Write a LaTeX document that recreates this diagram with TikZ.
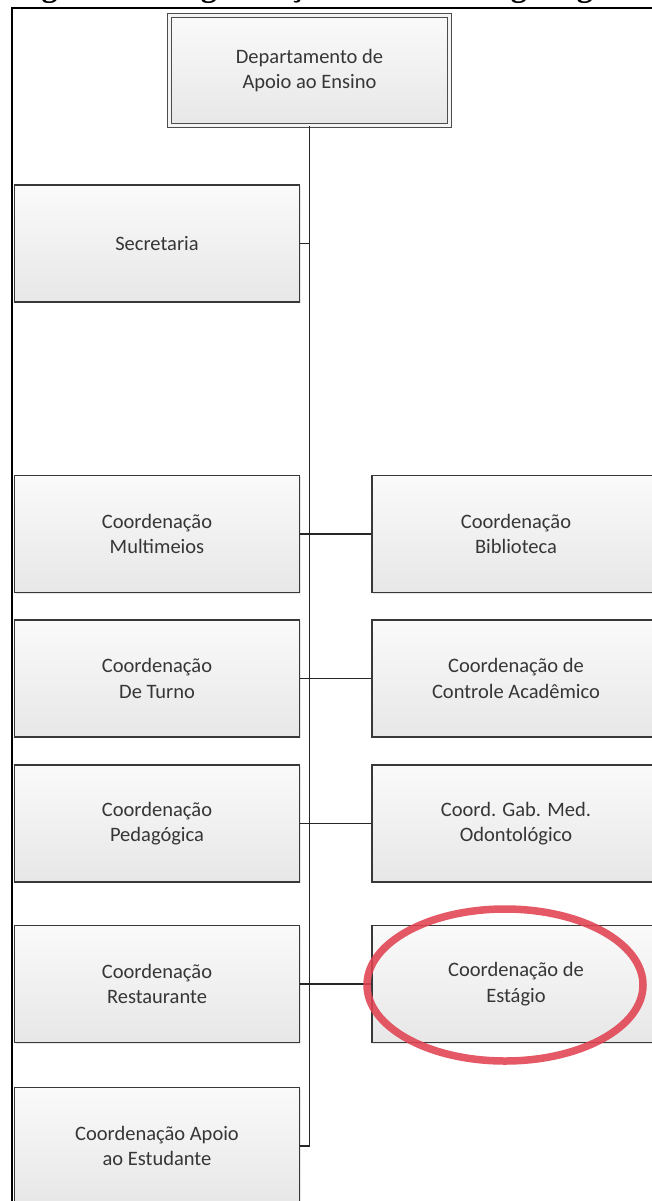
\documentclass[tikz,border=0pt]{standalone}
\usepackage{fontspec}
\setmainfont{Carlito}
\newfontfamily\captionserif{Liberation Serif}
\usetikzlibrary{shadows}

\definecolor{boxline}{HTML}{383838}
\definecolor{boxtop}{HTML}{FAFAFA}
\definecolor{boxbot}{HTML}{E7E7E7}
\definecolor{txt}{HTML}{363636}
\definecolor{ringred}{RGB}{224,66,80}

\begin{document}
\begin{tikzpicture}[x=1pt,y=-1pt,
  unit/.style={draw=boxline, line width=1.3pt, top color=boxtop, bottom color=boxbot,
    text=txt, font=\fontsize{20.5}{25.5}\selectfont, align=center, inner sep=0pt,
    drop shadow={opacity=0.18, shadow xshift=1.2pt, shadow yshift=-1.2pt}},
  leftunit/.style={unit, minimum width=285pt, minimum height=117pt},
  rightunit/.style={unit, minimum width=288pt, minimum height=117pt},
  headunit/.style={unit, draw=boxline!90, double=boxtop!70!boxbot, double distance=2.6pt,
    line width=1.3pt, minimum width=279.8pt, minimum height=109.8pt},
  link/.style={draw=black!85, line width=1.3pt},
  frame/.style={draw=black, line width=2pt},
  ring/.style={draw=ringred, line width=7.5pt, opacity=0.88}]

\useasboundingbox (0,0) rectangle (652,1201);
\clip (0,0) rectangle (652,1201);

% caption line above the frame (only its lowest part falls on the page)
\node[anchor=base west, inner sep=0pt, font=\captionserif\bfseries\fontsize{32}{32}\selectfont]
  (caption) at (13,-3) {Figura 2 – Organização do DAE: Organograma};

% outer frame
\coordinate (frameTR) at (660,8);
\coordinate (frameTL) at (11.5,8);
\coordinate (frameBL) at (11.5,1215);
\draw[frame] (frameTR) -- (frameTL) -- (frameBL);

% head of the chart
\node[headunit] (head) at (309.5,70.5) {Departamento de\\Apoio ao Ensino};
\coordinate (spineEnd) at (309.5,1146);

% left column
\node[leftunit] (sec)   at (157,243.5) {Secretaria};
\node[leftunit] (multi) at (157,534)   {Coordenação\\Multimeios};
\node[leftunit] (turno) at (157,678.5) {Coordenação\\De Turno};
\node[leftunit] (ped)   at (157,823.5) {Coordenação\\Pedagógica};
\node[leftunit] (rest)  at (157,984)   {Coordenação\\Restaurante};
\node[leftunit] (apoio) at (157,1146)  {Coordenação Apoio\\ao Estudante};

% right column
\node[rightunit] (bib)   at (516,534)   {Coordenação\\Biblioteca};
\node[rightunit] (ctrl)  at (516,678.5) {Coordenação de\\Controle Acadêmico};
\node[rightunit] (odon)  at (516,823.5) {Coord. Gab. Med.\\Odontológico};
\node[rightunit] (estag) at (516,984)   {Coordenação de\\Estágio};

% connectors
\draw[link] (head.south) -- (spineEnd);
\draw[link] (sec.east) -- (sec.east -| head.south);
\draw[link] (multi.east) -- (bib.west);
\draw[link] (turno.east) -- (ctrl.west);
\draw[link] (ped.east) -- (odon.west);
\draw[link] (rest.east) -- (estag.west);
\draw[link] (apoio.east) -- (spineEnd);

% highlight around the internship unit
\draw[ring] (estag.center) ++(-11,1) ellipse [x radius=138, y radius=76];

\end{tikzpicture}
\end{document}
